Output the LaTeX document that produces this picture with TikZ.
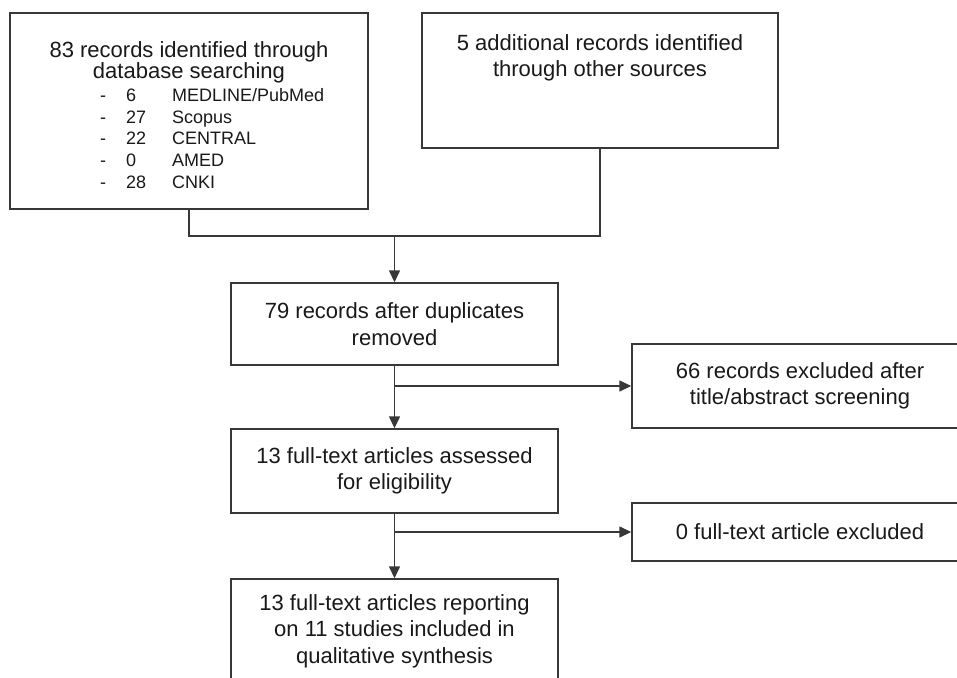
\documentclass[tikz,border=0pt]{standalone}
\usepackage{fontspec}
\setmainfont{Liberation Sans}
\usetikzlibrary{positioning,arrows.meta}

\begin{document}
\begin{tikzpicture}[
            x=1pt, y=-1pt,
            flowbox/.style={draw=black!78, line width=1.4pt, inner sep=0pt, align=center, text=black!90,
              font=\fontsize{22}{26.5}\selectfont},
            boxtext/.style={inner sep=0pt, align=center, text=black!90},
            link/.style={draw=black!78, line width=1.4pt},
            arrow/.style={link, -{Triangle[length=12pt,width=11pt]}},
          ]
          \useasboundingbox (0,0) rectangle (957,677);
          \clip (0,0) rectangle (957,677);

          % --- Identification: two source boxes ---
          \node[flowbox, minimum width=358pt, minimum height=196pt] (db) at (189,111) {};
          \node[boxtext, anchor=north, font=\fontsize{22}{21.5}\selectfont] (dbtitle) at (189,41)
            {83 records identified through\\database searching};
          \node[boxtext, anchor=north west, font=\fontsize{18}{21.75}\selectfont] (dblist) at (100,86)
            {\begin{tabular}{@{}p{26pt}@{}p{46pt}@{}l@{}}
              - & 6  & MEDLINE/PubMed \\
              - & 27 & Scopus \\
              - & 22 & CENTRAL \\
              - & 0  & AMED \\
              - & 28 & CNKI
            \end{tabular}};
          \node[flowbox, minimum width=356pt, minimum height=135pt] (other) at (600,80.5) {};
          \node[boxtext, anchor=north, font=\fontsize{22}{26}\selectfont] (othertitle) at (600,34)
            {5 additional records identified\\through other sources};

          % --- Screening and eligibility ---
          \node[flowbox, minimum width=327pt, minimum height=82pt] (dedup) at (394.5,324)
            {79 records after duplicates\\removed};
          \node[flowbox, minimum width=336pt, minimum height=84pt] (screen) at (800,386)
            {66 records excluded after\\title/abstract screening};
          \node[flowbox, minimum width=327pt, minimum height=84pt] (full) at (394.5,471)
            {13 full-text articles assessed\\for eligibility};
          \node[flowbox, minimum width=336pt, minimum height=58pt] (fullexcl) at (800,532)
            {0 full-text article excluded};

          % --- Included (runs past the lower edge) ---
          \node[flowbox, minimum width=327pt, minimum height=104pt] (incl) at (394.5,631)
            {13 full-text articles reporting\\on 11 studies included in\\qualitative synthesis};

          % --- Connectors ---
          \coordinate (merge) at (394.5,236);
          \draw[link] (db.south) |- (merge) -| (other.south);
          \draw[arrow] (merge) -- (dedup.north);
          \draw[arrow] (dedup.south) -- (full.north);
          \draw[arrow] (dedup.south |- screen.west) -- (screen.west);
          \draw[arrow] (full.south) -- (incl.north);
          \draw[arrow] (full.south |- fullexcl.west) -- (fullexcl.west);
        \end{tikzpicture}
\end{document}
